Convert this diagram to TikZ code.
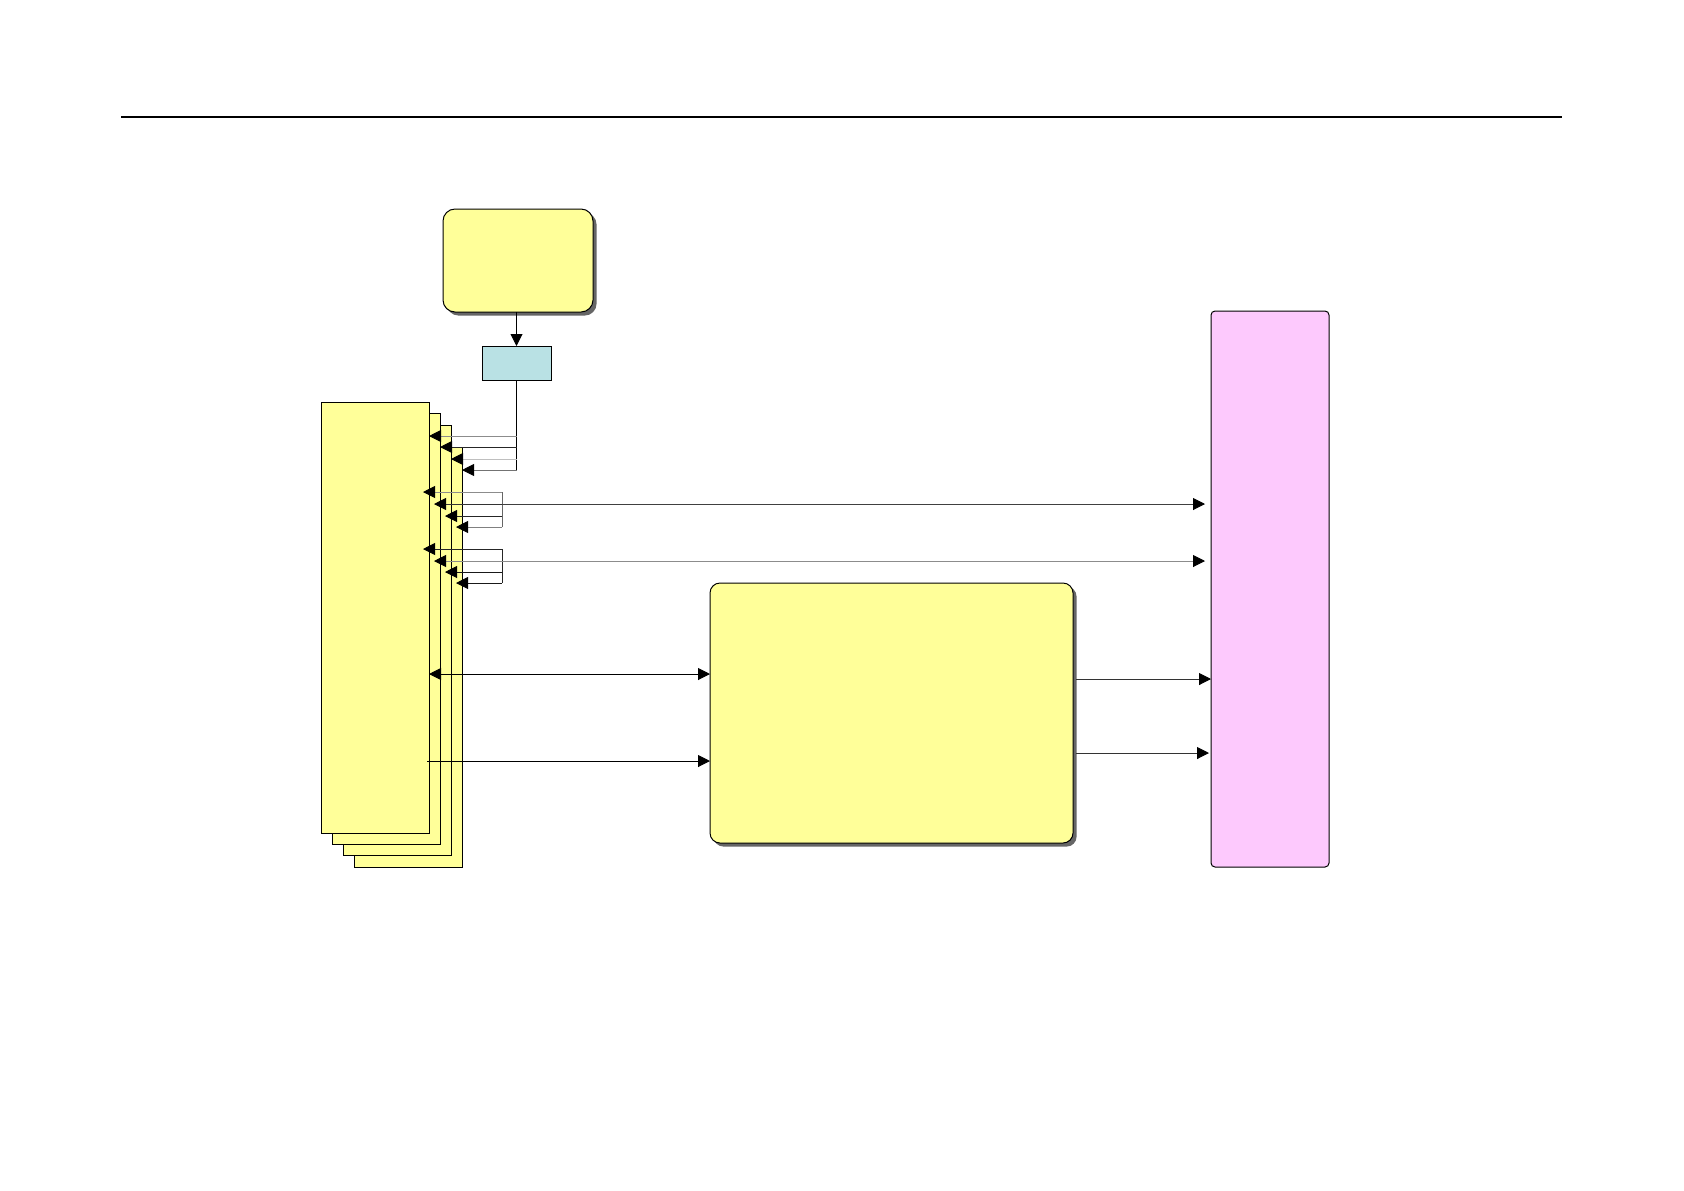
\documentclass[tikz,border=0pt]{standalone}
\usetikzlibrary{arrows.meta,shadows}
\definecolor{ylw}{HTML}{FFFF99}
\definecolor{lblue}{HTML}{B9E1E4}
\definecolor{pink}{HTML}{FDC9FD}
\begin{document}
\begin{tikzpicture}[x=1pt,y=-1pt,
  box/.style={draw=black,line width=0.5pt,inner sep=0pt,outer sep=0pt,anchor=north west},
  shbox/.style={box,fill=ylw,rounded corners=6pt,
     drop shadow={shadow xshift=1.8pt,shadow yshift=-1.8pt,fill=black!60,opacity=1}},
  stackbox/.style={box,fill=ylw,minimum width=54pt},
  ln/.style={line width=0.45pt},
  arr/.style={ln,-{Triangle[length=6pt,width=6pt,color=black]}},
  darr/.style={ln,{Triangle[length=6pt,width=6pt,color=black]}-{Triangle[length=6pt,width=6pt,color=black]}}
]
\useasboundingbox (0,0) rectangle (842,595);
\draw[line width=0.6pt] (60.5,58.5) -- (781,58.5);

% top box and control box
\node[shbox,minimum width=75pt,minimum height=51.5pt] (top) at (221.5,104.5) {};
\node[box,fill=lblue,minimum width=34.5pt,minimum height=17pt] (ctl) at (241,173) {};
\draw[arr] (ctl.north |- top.south) -- (ctl.north);

% stacked boxes
\node[stackbox,minimum height=210pt] (b4) at (177,223.5) {};
\node[stackbox,minimum height=215pt] (b3) at (171.5,212.5) {};
\node[stackbox,minimum height=215.5pt] (b2) at (166,206.5) {};
\node[stackbox,minimum height=215.5pt] (b1) at (160.5,201) {};

% pink box
\node[box,fill=pink,rounded corners=2pt,minimum width=59pt,minimum height=278pt] (pk) at (605.5,155.5) {};

% middle box
\node[shbox,rounded corners=5pt,minimum width=181.5pt,minimum height=130pt] (mid) at (355,291.5) {};

% group 1
\draw[ln] (ctl.south) -- (ctl.south |- 0,235) coordinate (g1);
\draw[arr,black!45] (ctl.south |- 0,218) -- (b1.east |- 0,218);
\draw[arr,black!85] (ctl.south |- 0,223.5) -- (b2.east |- 0,223.5);
\draw[arr,black!25] (ctl.south |- 0,229.5) -- (b3.east |- 0,229.5);
\draw[arr,black!55] (g1) -- (b4.east |- g1);

% group 2
\coordinate (g2a) at (251,246);
\coordinate (g2b) at (251,263.5);
\draw[ln,black!60] (g2a) -- (g2b);
\draw[arr,black!45,shorten >=-3pt] (g2a) -- (b1.east |- g2a);
\draw[arr,black!80,shorten >=-3pt] (251,252) -- (b2.east |- 0,252);
\draw[arr,black!85,shorten >=-3pt] (251,258) -- (b3.east |- 0,258);
\draw[arr,black!50,shorten >=-3pt] (g2b) -- (b4.east |- g2b);
\draw[arr,black!75,shorten >=3pt] (251,252) -- (pk.west |- 0,252);

% group 3
\coordinate (g3a) at (251,274.5);
\coordinate (g3b) at (251,291.5);
\draw[ln,black!85] (g3a) -- (g3b);
\draw[arr,black!85,shorten >=-3pt] (g3a) -- (b1.east |- g3a);
\draw[arr,black!45,shorten >=-3pt] (251,280.5) -- (b2.east |- 0,280.5);
\draw[arr,black!90,shorten >=-3pt] (251,286) -- (b3.east |- 0,286);
\draw[arr,black!90,shorten >=-3pt] (g3b) -- (b4.east |- g3b);
\draw[arr,black!45,shorten >=3pt] (251,280.5) -- (pk.west |- 0,280.5);

% stack <-> middle
\draw[darr] (b1.east |- 0,337) -- (mid.west |- 0,337);
\draw[arr] ([xshift=-1pt]b1.east |- 0,380.5) -- (mid.west |- 0,380.5);

% middle -> pink
\draw[arr,black!80] ([xshift=1.5pt]mid.east |- 0,339.5) -- (pk.west |- 0,339.5);
\draw[arr,black!80] ([xshift=1.5pt]mid.east |- 0,376.5) -- ([xshift=-1pt]pk.west |- 0,376.5);
\end{tikzpicture}
\end{document}
